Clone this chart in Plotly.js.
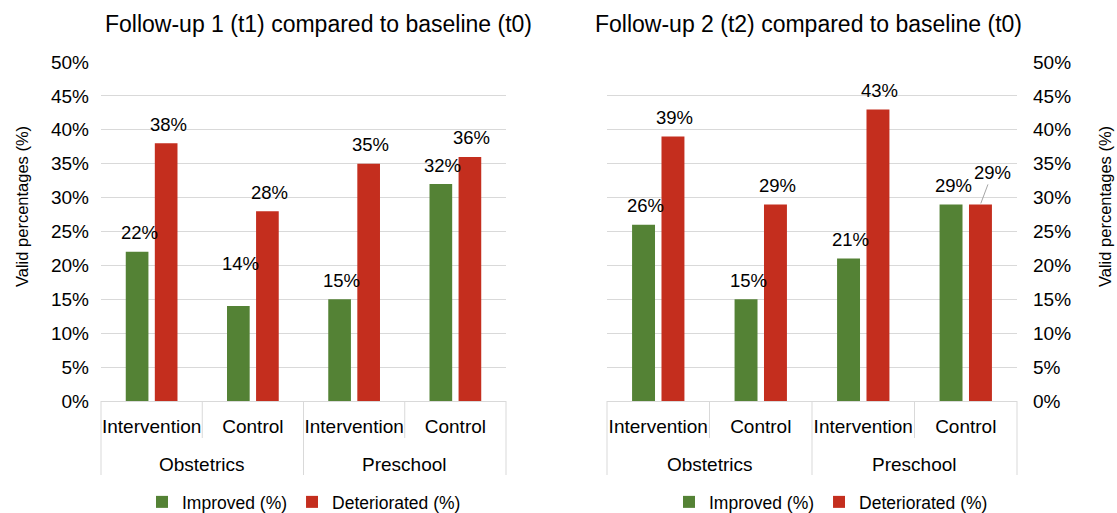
<!DOCTYPE html>
<html>
<head>
<meta charset="utf-8">
<script src="https://cdn.plot.ly/plotly-3.0.1.min.js"></script>
<style>
  html, body { margin: 0; padding: 0; background: #fff; }
  #chart { width: 1117px; height: 513px; }
</style>
</head>
<body>
<div id="chart"></div>
<script>
// Sub-categories along each x axis, and the two settings they belong to
const subCategories = ['Intervention', 'Control', 'Intervention', 'Control'];
const settings = ['Obstetrics', 'Preschool'];
const settingSpans = [[0, 1], [2, 3]];

// Follow-up 1 (t1) vs baseline (t0), valid percentages
const t1Improved = [22, 14, 15, 32];
const t1Deteriorated = [38, 28, 35, 36];

// Follow-up 2 (t2) vs baseline (t0), valid percentages
const t2Improved = [26, 15, 21, 29];
const t2Deteriorated = [39, 29, 43, 29];

const panelTitles = ['Follow-up 1 (t1) compared to baseline (t0)', 'Follow-up 2 (t2) compared to baseline (t0)'];
const seriesNames = ['Improved (%)', 'Deteriorated (%)'];
const yTitle = 'Valid percentages (%)';
const yTicks = [0, 5, 10, 15, 20, 25, 30, 35, 40, 45, 50];
const yTickText = yTicks.map(v => v + '%');

// ---- styling ----
const W = 1117, H = 513;
const FONT = '"Liberation Sans", Arial, Helvetica, sans-serif';
const GREEN = '#548235';
const RED = '#c42e1e';
const GRID = '#d9d9d9';
const BARGAP = 0.426;
const BARGROUPGAP = 0.22;
const LABEL_GAP = 19;           // px from bar top to the centre of its value label
const px = v => v / W;
const py = v => 1 - v / H;

// extra lift (px) for value labels that were dragged clear of their neighbours
const t1ImprovedLift = [0, 24, 0, 0];
const noLift = [0, 0, 0, 0];

const panels = [
  { xa: 'x', ya: 'y', xdom: [px(101), px(506)], improved: t1Improved, deteriorated: t1Deteriorated,
    liftA: t1ImprovedLift, liftB: noLift,
    title: panelTitles[0], titleX: 318, legend: 'legend', legendX: 304, yTitleX: 22, side: 'left' },
  { xa: 'x2', ya: 'y2', xdom: [px(607), px(1017)], improved: t2Improved, deteriorated: t2Deteriorated,
    liftA: noLift, liftB: noLift,
    title: panelTitles[1], titleX: 808, legend: 'legend2', legendX: 831, yTitleX: 1105, side: 'right' }
];
const ydom = [py(401), py(62)];
const xIdx = subCategories.map((_, i) => i);
const barOffset = (1 - BARGAP) / 4; // centre of each bar from its category centre

const data = [];
const annotations = [];
const shapes = [];
const layout = {
  width: W, height: H,
  margin: { l: 0, r: 0, t: 0, b: 0, autoexpand: false },
  paper_bgcolor: '#fff', plot_bgcolor: '#fff',
  font: { family: FONT, color: '#000', size: 19 },
  barmode: 'group', bargap: BARGAP, bargroupgap: BARGROUPGAP,
  showlegend: true
};

const labelFont = { size: 18.5, family: FONT, color: '#000' };

panels.forEach((p, k) => {
  const xaName = k === 0 ? 'xaxis' : 'xaxis2';
  const yaName = k === 0 ? 'yaxis' : 'yaxis2';

  data.push({
    type: 'bar', name: seriesNames[0], x: xIdx, y: p.improved,
    xaxis: p.xa, yaxis: p.ya, marker: { color: GREEN }, legend: p.legend, hoverinfo: 'y'
  });
  data.push({
    type: 'bar', name: seriesNames[1], x: xIdx, y: p.deteriorated,
    xaxis: p.xa, yaxis: p.ya, marker: { color: RED }, legend: p.legend, hoverinfo: 'y'
  });

  layout[xaName] = {
    domain: p.xdom, anchor: p.ya, range: [-0.5, subCategories.length - 0.5],
    tickvals: xIdx, ticktext: subCategories, ticks: '', showgrid: false, zeroline: false,
    showline: true, linecolor: GRID, linewidth: 1, ticklabelstandoff: 8, automargin: false,
    tickfont: { size: 19, family: FONT, color: '#000' }, fixedrange: true
  };
  layout[yaName] = {
    domain: ydom, anchor: p.xa, side: p.side, range: [0, 50],
    tickvals: yTicks, ticktext: yTickText, automargin: false,
    showgrid: true, gridcolor: GRID, gridwidth: 1, zeroline: false,
    showline: false, ticks: '', ticklabelstandoff: p.side === 'left' ? 11 : 15,
    tickfont: { size: 19, family: FONT, color: '#000' }, fixedrange: true
  };

  layout[p.legend] = {
    orientation: 'h', x: px(p.legendX), xanchor: 'center', y: py(502), yanchor: 'middle',
    font: { size: 17.5, family: FONT, color: '#000' }, bgcolor: 'rgba(0,0,0,0)', itemclick: false
  };

  // panel title
  annotations.push({
    xref: 'paper', yref: 'paper', x: px(p.titleX), y: py(24), xanchor: 'center', yanchor: 'middle',
    text: p.title, showarrow: false, font: { size: 23, family: FONT, color: '#000' }
  });
  // value-axis title
  annotations.push({
    xref: 'paper', yref: 'paper', x: px(p.yTitleX), y: py(207), xanchor: 'center', yanchor: 'middle',
    text: yTitle, textangle: -90, showarrow: false, font: { size: 16.5, family: FONT, color: '#000' }
  });

  // value labels
  xIdx.forEach(i => {
    const a = p.improved[i], b = p.deteriorated[i];
    annotations.push({
      xref: p.xa, yref: p.ya, x: i - barOffset, y: a, xshift: 2, yshift: LABEL_GAP + p.liftA[i],
      xanchor: 'center', yanchor: 'middle', text: a + '%', showarrow: false, font: labelFont
    });
    if (Math.abs(a - b) < 3) {
      // equal heights: move the label aside with a leader line
      annotations.push({
        xref: p.xa, yref: p.ya, x: i + barOffset, y: b, ax: 12, ay: -32,
        text: b + '%', showarrow: true, arrowhead: 0, arrowwidth: 1, arrowcolor: '#a6a6a6',
        standoff: 1, font: labelFont
      });
    } else {
      annotations.push({
        xref: p.xa, yref: p.ya, x: i + barOffset, y: b, xshift: 2, yshift: LABEL_GAP + p.liftB[i],
        xanchor: 'center', yanchor: 'middle', text: b + '%', showarrow: false, font: labelFont
      });
    }
  });

  // setting labels and the divider lines of the category table
  const d0 = p.xdom[0], dw = p.xdom[1] - p.xdom[0], n = subCategories.length;
  const toPaper = b => d0 + (b + 0.5) / n * dw;
  settingSpans.forEach((span, g) => {
    annotations.push({
      xref: 'paper', yref: 'paper', x: toPaper((span[0] + span[1]) / 2), y: py(464),
      xanchor: 'center', yanchor: 'middle', text: settings[g], showarrow: false,
      font: { size: 19, family: FONT, color: '#000' }
    });
  });
  for (let b = -0.5; b <= n - 0.5; b += 1) {
    const isGroupEdge = settingSpans.some(s => s[0] - 0.5 === b) || b === n - 0.5;
    shapes.push({
      type: 'line', xref: 'paper', yref: 'paper', x0: toPaper(b), x1: toPaper(b),
      y0: py(401), y1: py(isGroupEdge ? 475 : 438), line: { color: GRID, width: 1 }
    });
  }
});

layout.annotations = annotations;
layout.shapes = shapes;

Plotly.newPlot('chart', data, layout, { displayModeBar: false, staticPlot: true });
</script>
</body>
</html>
